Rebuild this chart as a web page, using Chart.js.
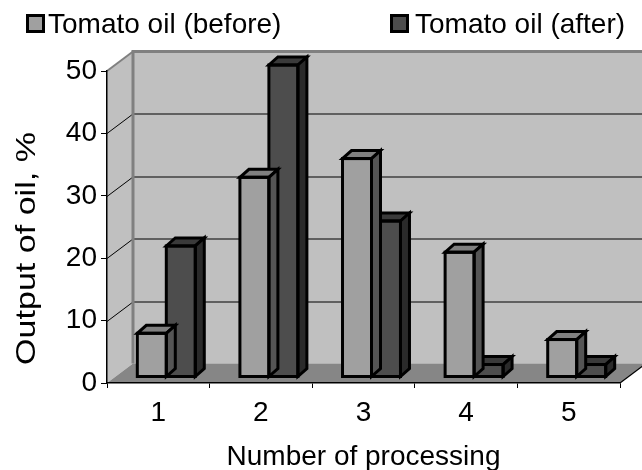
<!DOCTYPE html>
<html>
<head>
<meta charset="utf-8">
<script src="https://cdn.jsdelivr.net/npm/chart.js@4/dist/chart.umd.min.js"></script>
<style>
  html, body { margin: 0; padding: 0; background: #ffffff; }
  #wrap { width: 642px; height: 470px; position: relative; }
</style>
</head>
<body>
<div id="wrap"><canvas id="chart" width="642" height="470"></canvas></div>
<script>
// Oil output per processing run, before and after treatment
const categories = ['1', '2', '3', '4', '5'];
const beforeValues = [7, 32, 35, 20, 6];
const afterValues = [21, 50, 25, 2, 2];
const yTicks = [0, 10, 20, 30, 40, 50];
const seriesNames = ['Tomato oil (before)', 'Tomato oil (after)'];
const xTitle = 'Number of processing';
const yTitle = 'Output of oil, %';

const FONT = '"Liberation Sans", Arial, Helvetica, sans-serif';

// 3D look: depth of the box (walls/floor) and of each column
const WALL_DX = 26, WALL_DY = -19.5;
const BAR_SHIFT_X = 8, BAR_SHIFT_Y = -6;
const BAR_DX = 9, BAR_DY = -8;

const faceColors = [
  { front: '#a0a0a0', top: '#808080', side: '#555555' },
  { front: '#4d4d4d', top: '#3a3a3a', side: '#2a2a2a' }
];

function poly(ctx, pts, fill, stroke, lw) {
  ctx.beginPath();
  ctx.moveTo(pts[0][0], pts[0][1]);
  for (let i = 1; i < pts.length; i++) ctx.lineTo(pts[i][0], pts[i][1]);
  ctx.closePath();
  if (fill) { ctx.fillStyle = fill; ctx.fill(); }
  if (stroke) { ctx.strokeStyle = stroke; ctx.lineWidth = lw; ctx.stroke(); }
}

const box3d = {
  id: 'box3d',
  beforeDraw(chart) {
    const ctx = chart.ctx;
    const { left: L, right: R, top: T, bottom: B } = chart.chartArea;
    const W = chart.width;
    const ys = chart.scales.y;
    ctx.save();
    // side wall
    poly(ctx, [[L, B], [L, T], [L + WALL_DX, T + WALL_DY], [L + WALL_DX, B + WALL_DY]], '#c0c0c0');
    // back wall
    ctx.fillStyle = '#c0c0c0';
    ctx.fillRect(L + WALL_DX, T + WALL_DY, W - (L + WALL_DX), B - T);
    // gridlines on both walls
    ctx.strokeStyle = '#000000';
    ctx.lineWidth = 1;
    yTicks.forEach(v => {
      if (v === ys.min || v === ys.max) return;
      const y = Math.round(ys.getPixelForValue(v)) + 0.5;
      ctx.beginPath();
      ctx.moveTo(L, y);
      ctx.lineTo(L + WALL_DX, y + WALL_DY);
      ctx.lineTo(W, y + WALL_DY);
      ctx.stroke();
    });
    // floor
    poly(ctx, [[L, B], [R, B], [R + WALL_DX, B + WALL_DY], [L + WALL_DX, B + WALL_DY]], '#868686');
    ctx.strokeStyle = '#000000';
    ctx.lineWidth = 1.2;
    ctx.beginPath();
    ctx.moveTo(R, B);
    ctx.lineTo(R + WALL_DX, B + WALL_DY);
    ctx.stroke();
    // frame edges
    ctx.strokeStyle = '#808080';
    ctx.lineWidth = 3;
    ctx.beginPath();
    ctx.moveTo(L + WALL_DX, B + WALL_DY);
    ctx.lineTo(L + WALL_DX, T + WALL_DY);
    ctx.lineTo(W, T + WALL_DY);
    ctx.stroke();
    ctx.lineWidth = 2;
    ctx.beginPath();
    ctx.moveTo(L, T);
    ctx.lineTo(L + WALL_DX, T + WALL_DY);
    ctx.stroke();
    ctx.restore();
  },
  beforeDatasetDraw(chart) {
    chart.ctx.save();
    chart.ctx.translate(BAR_SHIFT_X, BAR_SHIFT_Y);
  },
  afterDatasetDraw(chart, args) {
    const ctx = chart.ctx;
    const c = faceColors[args.index];
    ctx.lineJoin = 'miter';
    args.meta.data.forEach(bar => {
      const p = bar.getProps(['x', 'y', 'base', 'width'], true);
      const l = p.x - p.width / 2, r = p.x + p.width / 2, t = p.y, b = p.base;
      poly(ctx, [[l, t], [r, t], [r + BAR_DX, t + BAR_DY], [l + BAR_DX, t + BAR_DY]], c.top, '#000', 3);
      poly(ctx, [[r, t], [r + BAR_DX, t + BAR_DY], [r + BAR_DX, b + BAR_DY], [r, b]], c.side, '#000', 3);
      ctx.strokeStyle = '#000';
      ctx.lineWidth = 3;
      ctx.strokeRect(l, t, r - l, b - t);
    });
    ctx.restore();
  },
  afterDraw(chart) {
    const ctx = chart.ctx;
    ctx.save();
    ctx.fillStyle = '#000';
    ctx.font = '28px ' + FONT;
    ctx.textBaseline = 'alphabetic';
    // legend
    const legendItems = [
      { box: 26, text: 48 },
      { box: 390, text: 415 }
    ];
    legendItems.forEach((it, i) => {
      ctx.fillStyle = faceColors[i].front;
      ctx.fillRect(it.box + 1.5, 15.5, 16, 16);
      ctx.strokeStyle = '#000';
      ctx.lineWidth = 3;
      ctx.strokeRect(it.box + 1.5, 15.5, 16, 16);
      ctx.fillStyle = '#000';
      ctx.textAlign = 'left';
      ctx.fillText(seriesNames[i], it.text, 33);
    });
    // axis titles
    const { left: L, right: R } = chart.chartArea;
    ctx.textAlign = 'center';
    ctx.fillText(xTitle, (L + R) / 2, 465);
    ctx.translate(35, 248.5);
    ctx.rotate(-Math.PI / 2);
    const w = ctx.measureText(yTitle).width;
    ctx.scale(233 / w, 1);
    ctx.fillText(yTitle, 0, 0);
    ctx.restore();
  }
};

const ctx = document.getElementById('chart').getContext('2d');
new Chart(ctx, {
  type: 'bar',
  data: {
    labels: categories,
    datasets: [
      { label: seriesNames[0], data: beforeValues, backgroundColor: faceColors[0].front, borderWidth: 0,
        categoryPercentage: 0.565, barPercentage: 1 },
      { label: seriesNames[1], data: afterValues, backgroundColor: faceColors[1].front, borderWidth: 0,
        categoryPercentage: 0.565, barPercentage: 1 }
    ]
  },
  options: {
    responsive: false,
    animation: false,
    devicePixelRatio: 1,
    layout: { padding: { left: 0, right: 22, top: 71, bottom: 0 } },
    plugins: { legend: { display: false }, tooltip: { enabled: false }, title: { display: false } },
    scales: {
      x: {
        grid: { display: true, drawOnChartArea: false, drawTicks: true, tickLength: 5, color: '#000', offset: true, lineWidth: 1 },
        border: { display: true, color: '#000', width: 1.5 },
        ticks: { color: '#000', font: { family: FONT, size: 28 }, padding: 8, maxRotation: 0 },
        afterFit(s) { s.height = 87; }
      },
      y: {
        min: 0, max: 50,
        afterBuildTicks(s) { s.ticks = yTicks.map(v => ({ value: v })); },
        grid: { display: true, drawOnChartArea: false, drawTicks: true, tickLength: 6, color: '#000', lineWidth: 1 },
        border: { display: true, color: '#000', width: 1.5 },
        ticks: { color: '#000', font: { family: FONT, size: 28 }, padding: 4 },
        afterFit(s) { s.width = 107; }
      }
    }
  },
  plugins: [box3d]
});
</script>
</body>
</html>
